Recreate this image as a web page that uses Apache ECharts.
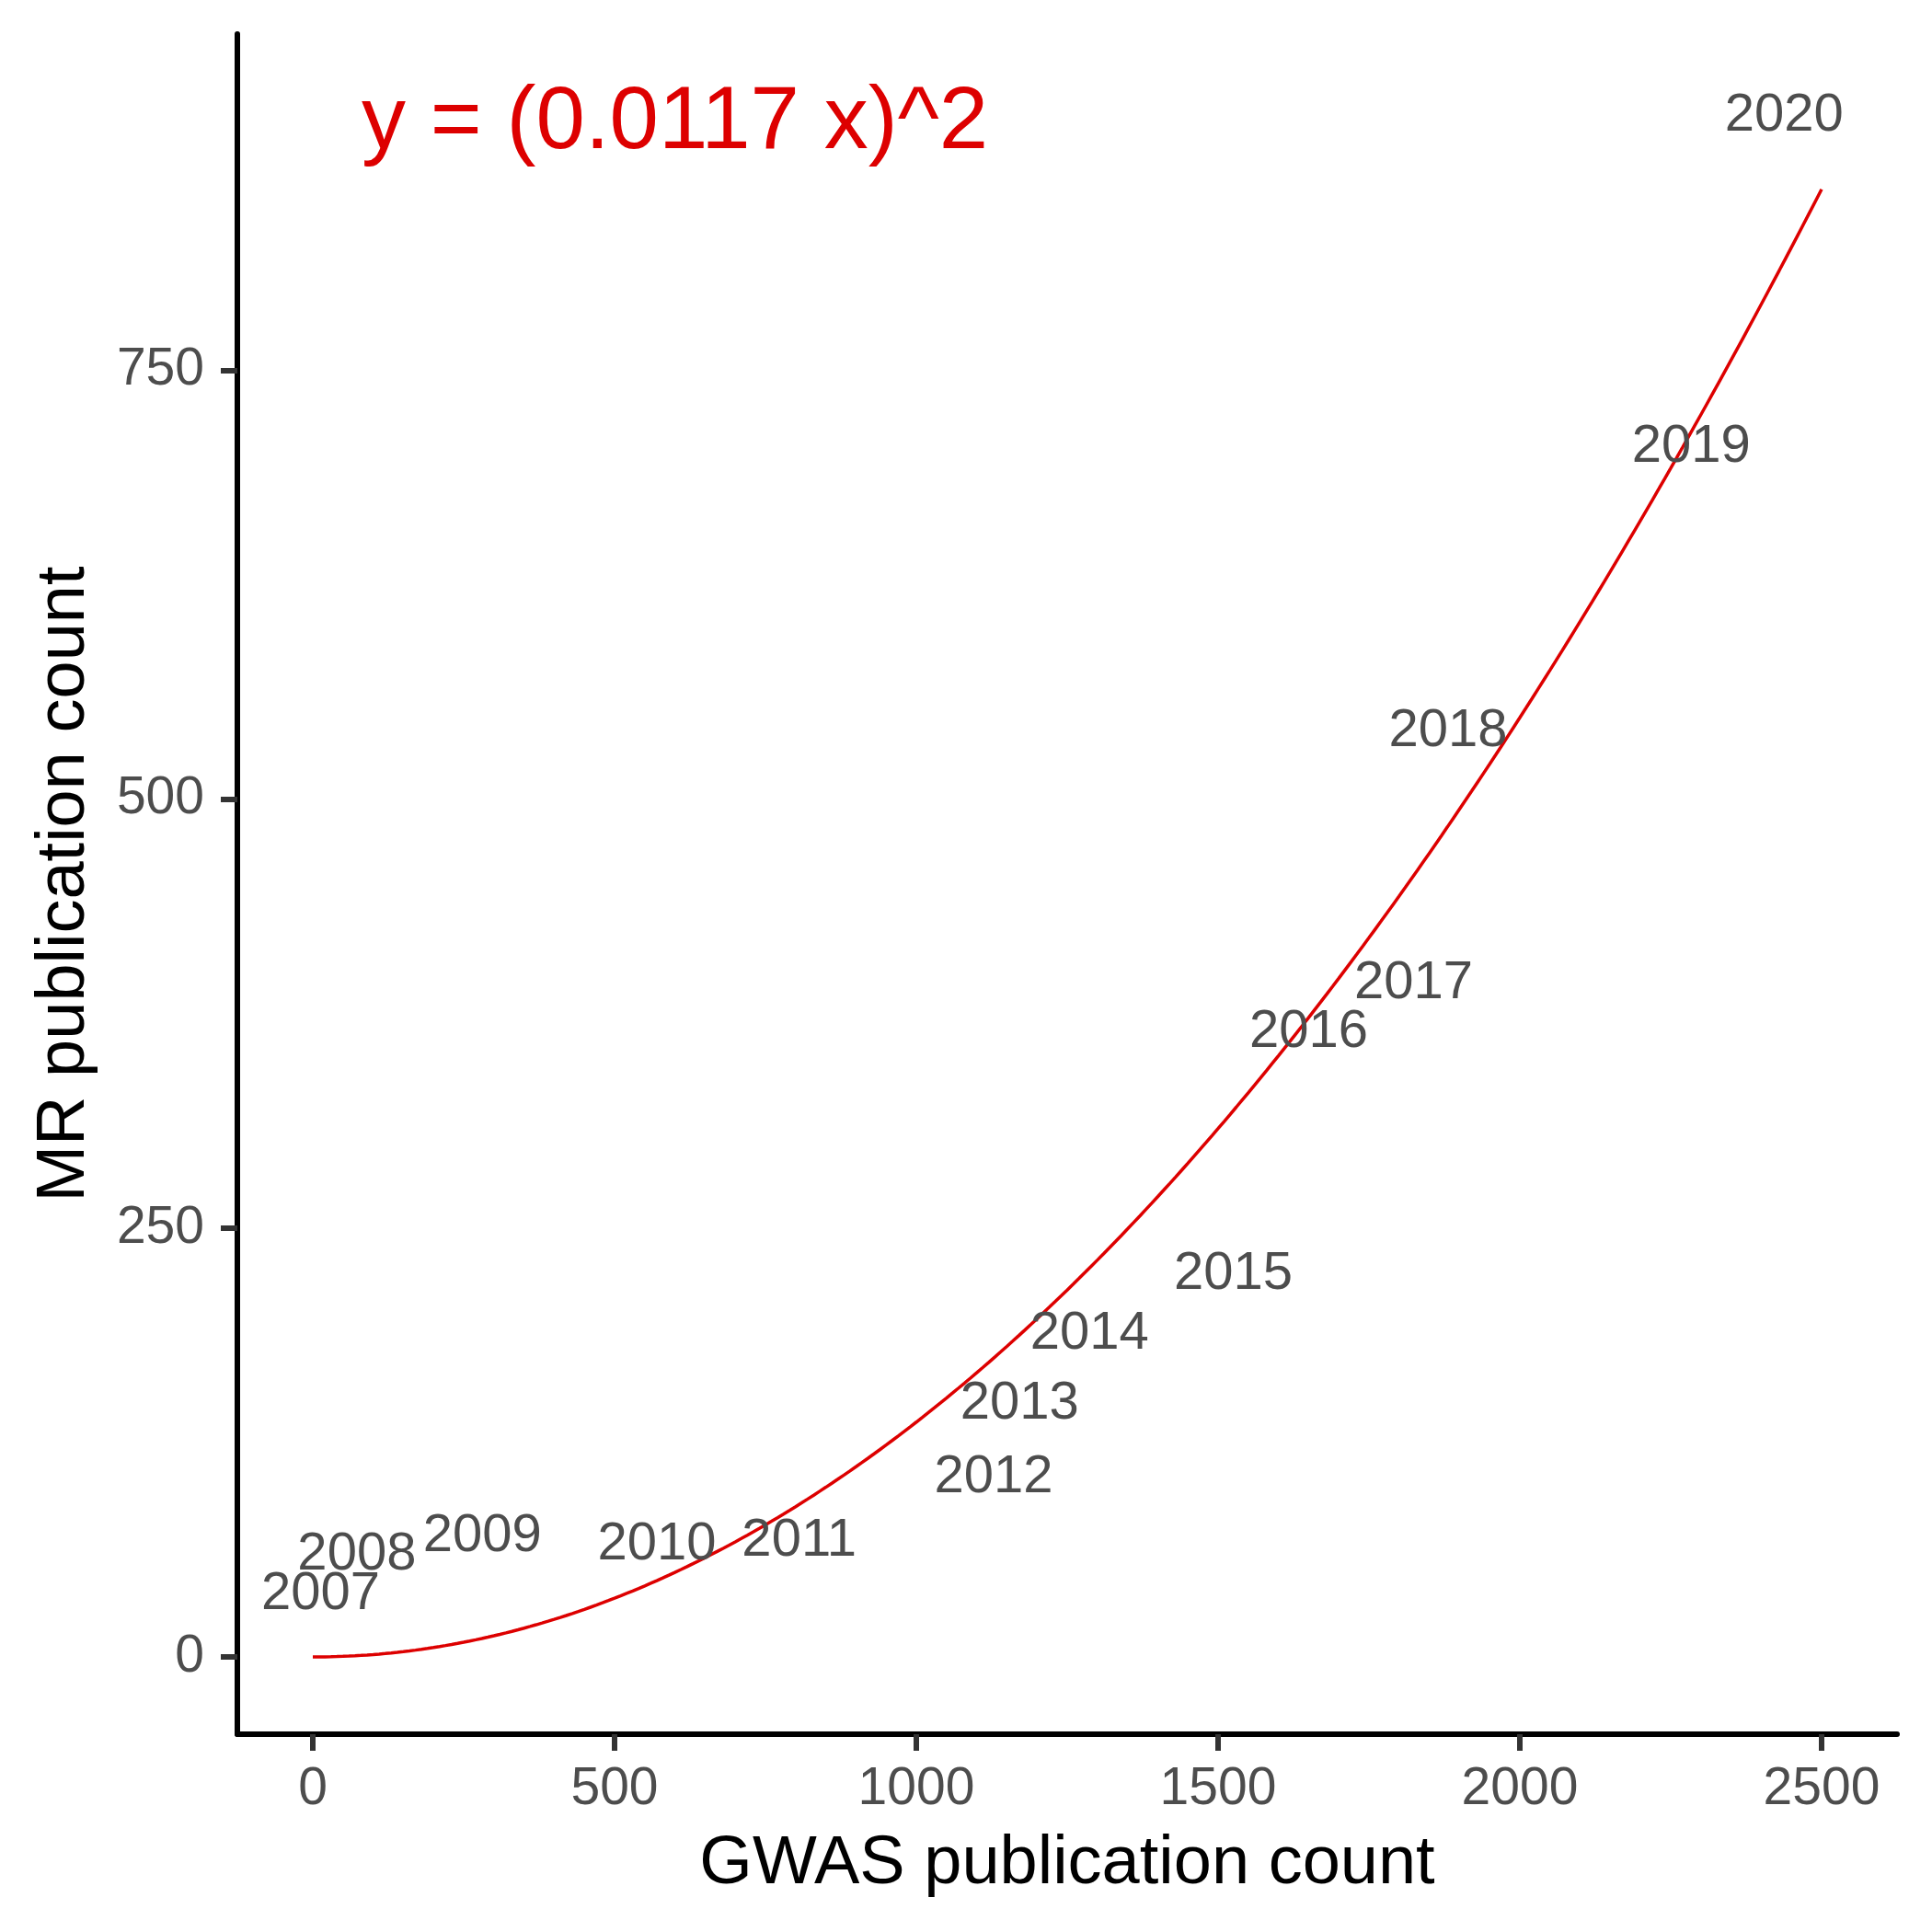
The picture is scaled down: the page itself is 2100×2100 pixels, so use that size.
<!DOCTYPE html>
<html>
<head>
<meta charset="utf-8">
<script src="https://cdn.jsdelivr.net/npm/echarts@6/dist/echarts.min.js"></script>
<style>
html, body { margin: 0; padding: 0; background: #fff; }
#chart { width: 2100px; height: 2100px; }
</style>
</head>
<body>
<div id="chart"></div>
<script>
// ---- Data ----
const years = ['2007','2008','2009','2010','2011','2012','2013','2014','2015','2016','2017','2018','2019','2020'];
const gwasCounts = [13, 73, 281, 570, 806, 1128, 1171, 1287, 1525, 1650, 1824, 1881, 2284, 2438];
const mrCounts   = [39, 62, 73, 68, 70, 107, 150, 191, 226, 367, 395, 542, 708, 901];
const xTicks = [0, 500, 1000, 1500, 2000, 2500];
const yTicks = [0, 250, 500, 750];
const fitCoef = 0.0117;          // y = (fitCoef * x)^2, as stated on the chart
const fitXMax = 2500;
const equationText = 'y = (0.0117 x)^2';
const equationPos = [600, 900];
const xTitle = 'GWAS publication count';
const yTitle = 'MR publication count';

// ---- Derived ----
const fitCurve = [];
for (let x = 0; x <= fitXMax; x += 10) fitCurve.push([x, Math.pow(fitCoef * x, 2)]);
const labelPoints = years.map((y, i) => [gwasCounts[i], mrCounts[i], y]);

const xLo = 0, xHi = fitXMax;
const yLo = 0, yHi = Math.max(...mrCounts);
const xPad = (xHi - xLo) * 0.05, yPad = (yHi - yLo) * 0.05;

const FONT = 'Liberation Sans';
const chart = echarts.init(document.getElementById('chart'), null, { renderer: 'canvas' });
chart.setOption({
  animation: false,
  backgroundColor: '#ffffff',
  grid: { left: 258, right: 38, top: 37, bottom: 215, containLabel: false },
  xAxis: {
    type: 'value',
    min: xLo - xPad, max: xHi + xPad,
    name: xTitle, nameLocation: 'middle', nameGap: 105,
    nameTextStyle: { fontFamily: FONT, fontSize: 74, color: '#000000' },
    splitLine: { show: false },
    axisLine: { show: true, onZero: false, lineStyle: { color: '#000000', width: 6 } },
    axisTick: { show: true, length: 18, lineStyle: { color: '#333333', width: 6 }, customValues: xTicks },
    axisLabel: { show: true, margin: 32, fontFamily: FONT, fontSize: 57, color: '#4d4d4d',
                 customValues: xTicks, formatter: v => String(v) }
  },
  yAxis: {
    type: 'value',
    min: yLo - yPad, max: yHi + yPad,
    name: yTitle, nameLocation: 'middle', nameGap: 150, nameRotate: 90,
    nameTextStyle: { fontFamily: FONT, fontSize: 74, color: '#000000' },
    splitLine: { show: false },
    axisLine: { show: true, onZero: false, lineStyle: { color: '#000000', width: 6 } },
    axisTick: { show: true, length: 18, lineStyle: { color: '#333333', width: 6 }, customValues: yTicks },
    axisLabel: { show: true, margin: 36, fontFamily: FONT, fontSize: 57, color: '#4d4d4d',
                 customValues: yTicks, formatter: v => String(v) }
  },
  series: [
    {
      type: 'line',
      data: fitCurve,
      showSymbol: false,
      symbol: 'none',
      lineStyle: { color: '#dd0000', width: 3.5 },
      z: 2
    },
    {
      type: 'scatter',
      data: labelPoints,
      symbol: 'circle',
      symbolSize: 1,
      itemStyle: { color: 'rgba(0,0,0,0)', opacity: 1 },
      label: {
        show: true, position: 'inside', offset: [0, 5],
        formatter: p => p.data[2],
        fontFamily: FONT, fontSize: 58, color: '#4d4d4d', opacity: 1,
        textBorderWidth: 0,
        align: 'center', verticalAlign: 'middle'
      },
      z: 3
    },
    {
      type: 'scatter',
      data: [[equationPos[0], equationPos[1], equationText]],
      symbol: 'circle',
      symbolSize: 1,
      itemStyle: { color: 'rgba(0,0,0,0)', opacity: 1 },
      label: {
        show: true, position: 'inside', offset: [0, 12],
        formatter: p => p.data[2],
        fontFamily: FONT, fontSize: 96, color: '#dd0000', opacity: 1,
        textBorderWidth: 0,
        align: 'center', verticalAlign: 'middle'
      },
      z: 3
    }
  ]
});
</script>
</body>
</html>
